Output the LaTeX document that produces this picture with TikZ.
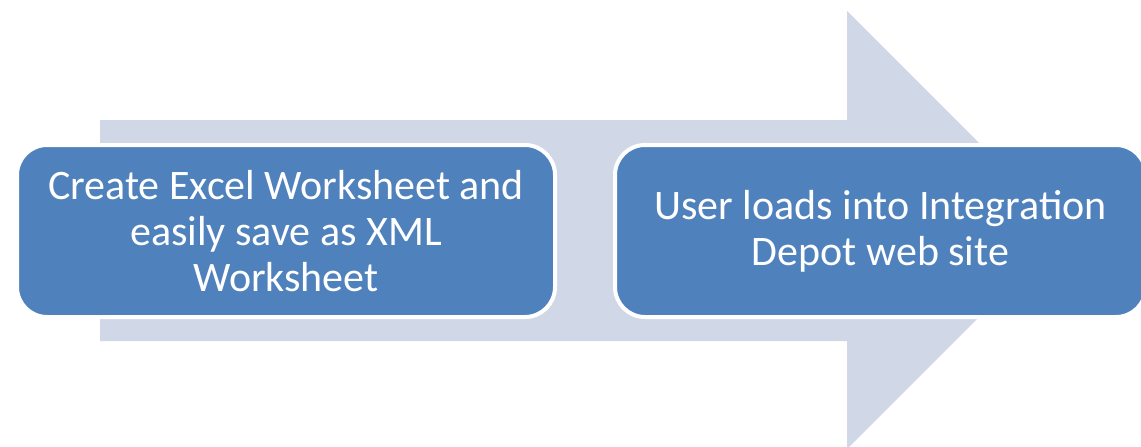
\documentclass[tikz,border=0pt]{standalone}
\usepackage{fontspec}
\setmainfont{Carlito}
\definecolor{boxblue}{HTML}{4F81BD}
\definecolor{arrowgray}{HTML}{D0D8E8}
\begin{document}
\begin{tikzpicture}[x=1pt,y=-1pt,
  stepbox/.style={rectangle, rounded corners=30pt, fill=boxblue, draw=white, line width=4pt,
    text=white, align=center, inner sep=0pt,
    font=\fontsize{42pt}{46pt}\selectfont},
  bigarrow/.style={fill=arrowgray, draw=none}]
\useasboundingbox (0,0) rectangle (1141,447);
\begin{scope}
\clip (0,0) rectangle (1141,447);
\fill[bigarrow] (100,120) -- (847,120) -- (847,11) -- (1066,230) -- (847,449) -- (847,341) -- (100,341) -- cycle;
\node[stepbox, minimum width=538pt, minimum height=172pt] (a) at (286,231)
  {Create Excel Worksheet and\\easily save as XML\\Worksheet};
\node[stepbox, minimum width=531pt, minimum height=172pt] (b) at (880.5,231)
  {User loads into Integration\\Depot web site};
\end{scope}
\end{tikzpicture}
\end{document}
